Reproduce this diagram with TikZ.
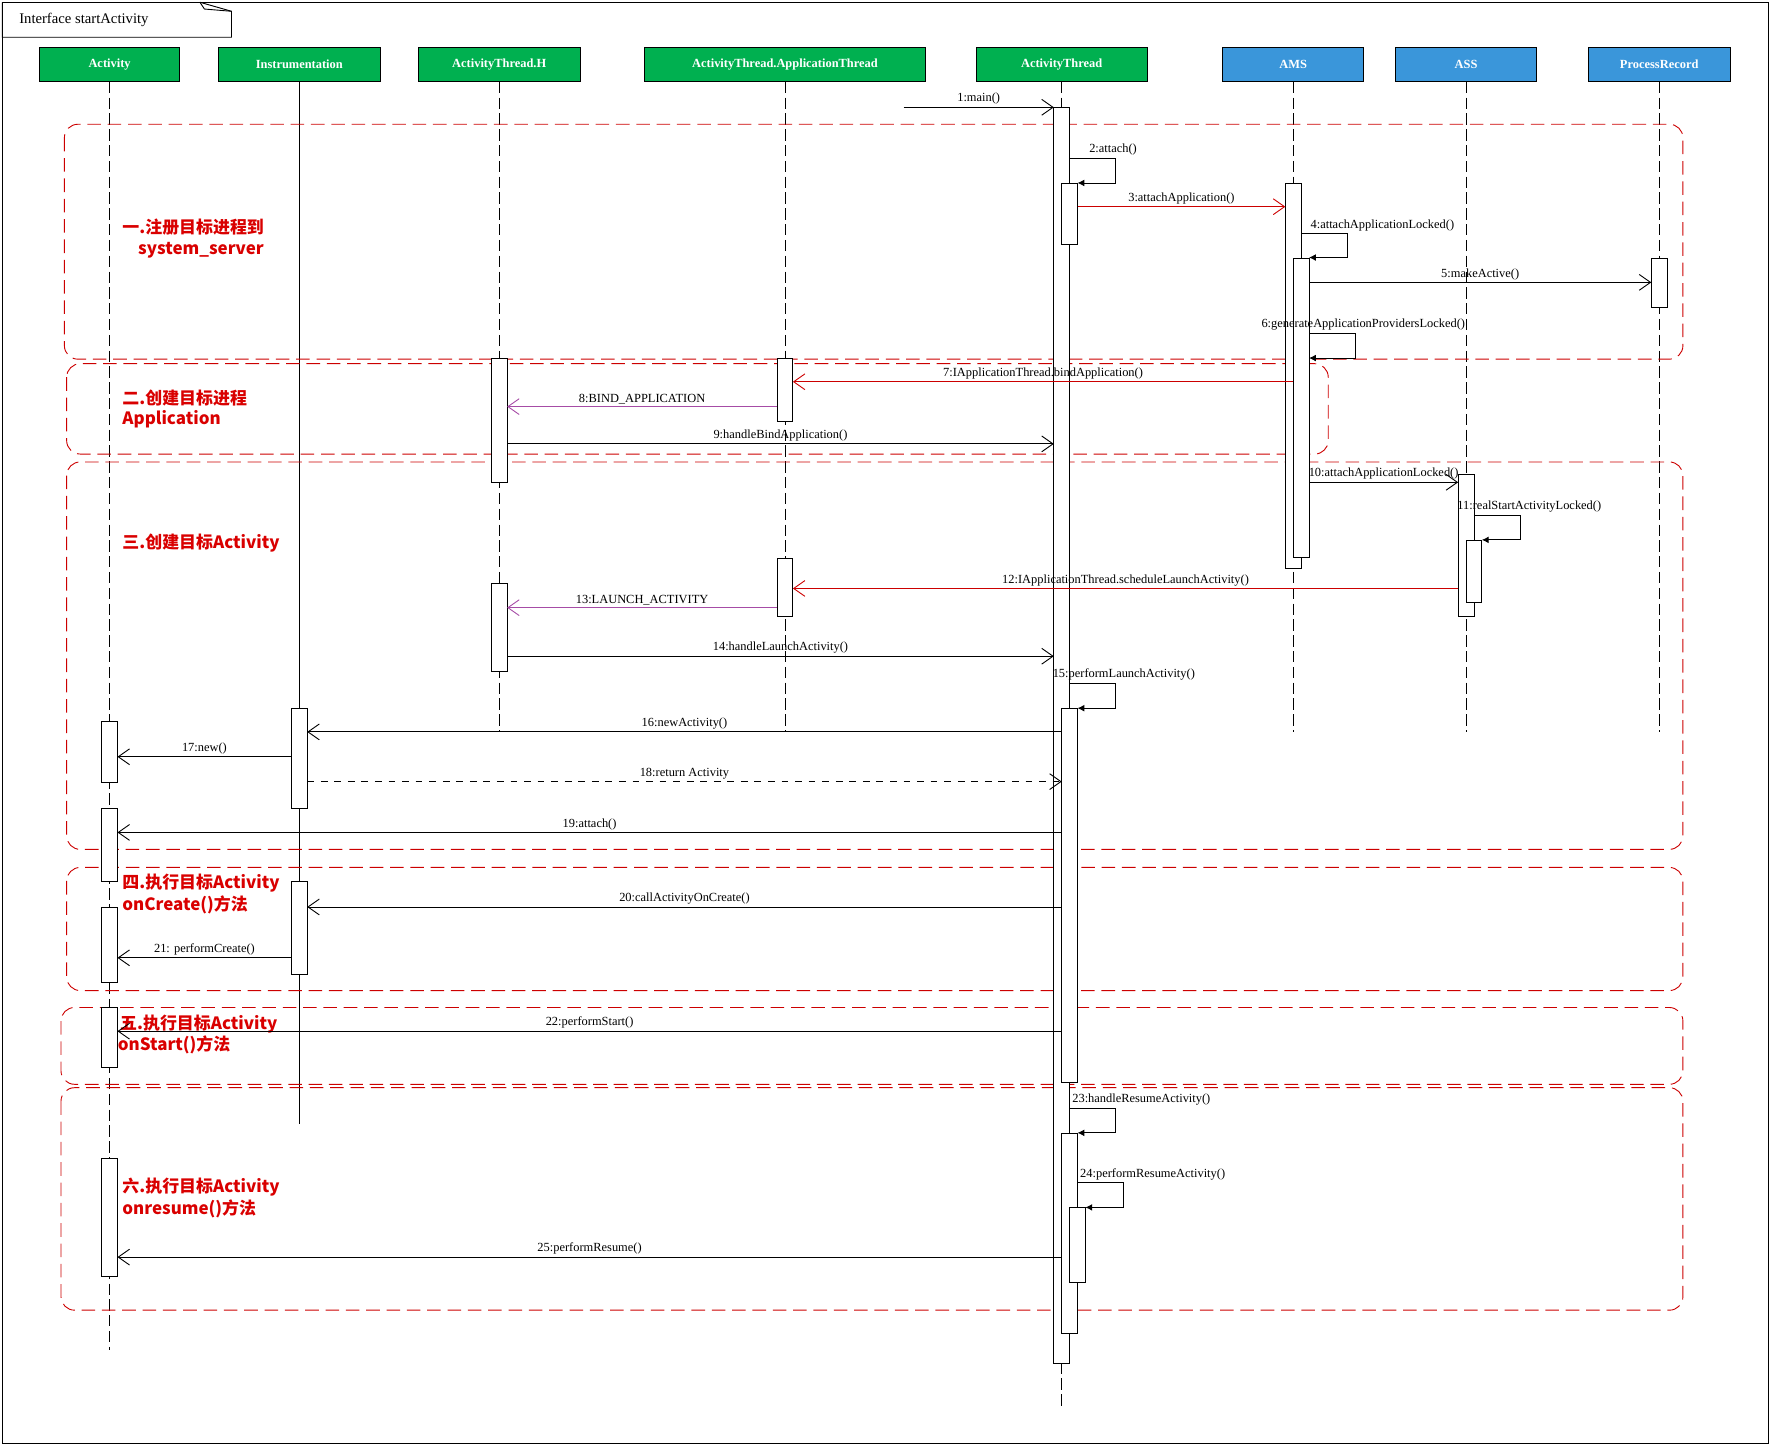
\documentclass[tikz,border=0pt]{standalone}
\usepackage{fontspec}
\setmainfont{Liberation Serif}
\newfontfamily\cjk{Noto Sans CJK SC}
\usetikzlibrary{arrows.meta}
\definecolor{hgreen}{HTML}{00B050}
\definecolor{hblue}{HTML}{3A96DA}

\newcommand{\actbar}[4]{% name, x, top, bottom
  \node[bar, minimum height={(#4-#3)*0.5pt}] (#1) at (#2,#3) {};}
\newcommand{\callmsg}[6]{% name, style, x from, x to, y, label
  \coordinate (#1a) at (#3,#5); \coordinate (#1b) at (#4,#5);
  \draw[#2] (#1a) -- node[lbl] {#6} (#1b);}
\newcommand{\selfmsg}[5]{% name, x from, x to, y top, y bottom
  \coordinate (#1a) at (#2,#4); \coordinate (#1b) at (#3,#5);
  \draw[self] (#1a) -- ++(41,0) |- (#1b);}

\begin{document}
\begin{tikzpicture}[x=0.5pt, y=-0.5pt,
		head/.style={draw, text=white, font=\fontsize{5.5}{6}\selectfont\bfseries, minimum height=15pt, inner sep=0pt},
		green/.style={head, fill=hgreen},
		blue/.style={head, fill=hblue},
		bar/.style={draw, fill=white, minimum width=7pt, anchor=north, inner sep=0pt},
		life/.style={dash pattern=on 5pt off 2pt},
		lbl/.style={above, font=\fontsize{5.5}{6}\selectfont, inner sep=1pt},
		call/.style={-{Straight Barb[length=5pt,width=7pt]}},
		redcall/.style={call, red!80!black},
		pcall/.style={call, violet!70},
		ret/.style={call, dashed},
		self/.style={-{Latex[length=3pt,width=3pt]}},
		zone/.style={draw=red!80!black, dash pattern=on 6pt off 3pt, rounded corners=6pt},
		zlbl/.style={red!85!black, anchor=west, font=\cjk\fontsize{7.5}{9}\selectfont\bfseries, inner sep=0pt}
		]
		\useasboundingbox (0,0) rectangle (1568,1280);
		\draw (2,2) rectangle (1566,1278);
		\draw (2,2) -- (2,33) -- (205,33) -- (205,10) -- (177,2);
		\draw (177,2) -- (181,8) -- (205,10);
		\node[anchor=west, font=\fontsize{6.5}{7}\selectfont] (title) at (10,18) {Interface startActivity};

		% heads
		\node[green, minimum width=62pt] (act) at (97,57) {Activity};
		\node[green, minimum width=72pt] (ins) at (265,57) {Instrumentation};
		\node[green, minimum width=71.5pt] (ath) at (442,57) {ActivityThread.H};
		\node[green, minimum width=124pt] (aat) at (695,57) {ActivityThread.ApplicationThread};
		\node[green, minimum width=75.5pt] (at) at (940,57) {ActivityThread};
		\node[blue, minimum width=62.5pt] (ams) at (1145,57) {AMS};
		\node[blue, minimum width=62.5pt] (ass) at (1298,57) {ASS};
		\node[blue, minimum width=63pt] (pr) at (1469,57) {ProcessRecord};

		% lifelines
		\coordinate (actE) at (97,1195);
		\coordinate (insE) at (265,995);
		\coordinate (athE) at (442,648);
		\coordinate (aatE) at (695,648);
		\coordinate (atE) at (940,1245);
		\coordinate (amsE) at (1145,648);
		\coordinate (assE) at (1298,648);
		\coordinate (prE) at (1469,648);
		\draw[life] (act) -- (actE);
		\draw (ins) -- (insE);
		\draw[life] (ath) -- (athE);
		\draw[life] (aat) -- (aatE);
		\draw[life] (at) -- (atE);
		\draw[life] (ams) -- (amsE);
		\draw[life] (ass) -- (assE);
		\draw[life] (pr) -- (prE);

		% zones
		\draw[zone] (57,110) rectangle (1490,318);
		\draw[zone] (59,322) rectangle (1176,402);
		\draw[zone] (59,409) rectangle (1490,752);
		\draw[zone] (59,768) rectangle (1490,877);
		\draw[zone] (54,892) rectangle (1490,960);
		\draw[zone] (54,963) rectangle (1490,1160);
		\node[zlbl] (z1) at (108,201) {一.注册目标进程到};
		\node[zlbl] (z1b) at (122,222) {system\_server};
		\node[zlbl] (z2) at (108,352) {二.创建目标进程};
		\node[zlbl] (z2b) at (108,371) {Application};
		\node[zlbl] (z3) at (108,481) {三.创建目标Activity};
		\node[zlbl] (z4) at (108,782) {四.执行目标Activity};
		\node[zlbl] (z4b) at (108,801) {onCreate()方法};
		\node[zlbl] (z5) at (106,907) {五.执行目标Activity};
		\node[zlbl] (z5b) at (104,925) {onStart()方法};
		\node[zlbl] (z6) at (108,1051) {六.执行目标Activity};
		\node[zlbl] (z6b) at (108,1070) {onresume()方法};

		% activations
		\actbar{at0}{940}{95}{1207}
		\actbar{at1}{947}{162}{216}
		\actbar{at2}{947}{627}{958}
		\actbar{at3}{947}{1003}{1180}
		\actbar{at4}{954}{1069}{1135}
		\actbar{ams0}{1145}{162}{503}
		\actbar{ams1}{1152}{228}{493}
		\actbar{pr0}{1469}{228}{272}
		\actbar{ass0}{1298}{420}{545}
		\actbar{ass1}{1305}{478}{533}
		\actbar{ath0}{442}{317}{427}
		\actbar{ath1}{442}{516}{594}
		\actbar{aat0}{695}{317}{373}
		\actbar{aat1}{695}{494}{545}
		\actbar{ins0}{265}{627}{715}
		\actbar{ins1}{265}{780}{862}
		\actbar{act0}{97}{638}{692}
		\actbar{act1}{97}{715}{780}
		\actbar{act2}{97}{803}{869}
		\actbar{act3}{97}{892}{945}
		\actbar{act4}{97}{1025}{1130}

		% messages
		\callmsg{m1}{call}{800}{933}{95}{1:main()}
		\selfmsg{m2}{947}{954}{140}{162}
		\node[lbl, anchor=south west] at (962,140) {2:attach()};
		\callmsg{m3}{redcall}{954}{1138}{183}{\textcolor{black}{3:attachApplication()}}
		\selfmsg{m4}{1152}{1159}{207}{228}
		\node[lbl, anchor=south west] at (1158,207) {4:attachApplicationLocked()};
		\callmsg{m5}{call}{1159}{1462}{250}{5:makeActive()}
		\selfmsg{m6}{1159}{1159}{295}{317}
		\node[lbl] at (1207,295) {6:generateApplicationProvidersLocked()};
		\callmsg{m7}{redcall}{1145}{702}{338}{\textcolor{black}{7:IApplicationThread.bindApplication()}}
		\callmsg{m8}{pcall}{688}{449}{360}{\textcolor{black}{8:BIND\_APPLICATION}}
		\callmsg{m9}{call}{449}{933}{393}{9:handleBindApplication()}
		\callmsg{m10}{call}{1159}{1291}{427}{10:attachApplicationLocked()}
		\selfmsg{m11}{1305}{1312}{456}{478}
		\node[lbl] at (1354,456) {11:realStartActivityLocked()};
		\callmsg{m12}{redcall}{1291}{702}{521}{\textcolor{black}{12:IApplicationThread.scheduleLaunchActivity()}}
		\callmsg{m13}{pcall}{688}{449}{538}{\textcolor{black}{13:LAUNCH\_ACTIVITY}}
		\callmsg{m14}{call}{449}{933}{581}{14:handleLaunchActivity()}
		\selfmsg{m15}{947}{954}{605}{627}
		\node[lbl] at (995,605) {15:performLaunchActivity()};
		\callmsg{m16}{call}{940}{272}{648}{16:newActivity()}
		\callmsg{m17}{call}{258}{104}{670}{17:new()}
		\callmsg{m18}{ret}{272}{940}{692}{18:return Activity}
		\callmsg{m19}{call}{940}{104}{737}{19:attach()}
		\callmsg{m20}{call}{940}{272}{803}{20:callActivityOnCreate()}
		\callmsg{m21}{call}{258}{104}{848}{21: performCreate()}
		\callmsg{m22}{call}{940}{104}{913}{22:performStart()}
		\selfmsg{m23}{947}{954}{981}{1003}
		\node[lbl, anchor=south west] at (m23a) {23:handleResumeActivity()};
		\selfmsg{m24}{954}{961}{1047}{1069}
		\node[lbl, anchor=south west] at (m24a) {24:performResumeActivity()};
		\callmsg{m25}{call}{940}{104}{1113}{25:performResume()}
	\end{tikzpicture}
\end{document}
